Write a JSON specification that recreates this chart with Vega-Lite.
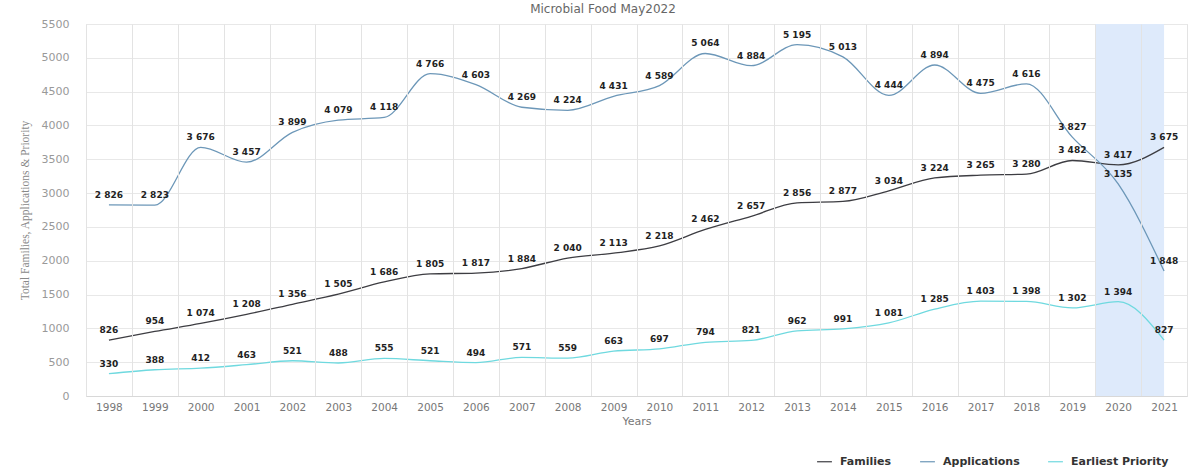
{
  "$schema": "https://vega.github.io/schema/vega-lite/v6.json",
  "width": 1101,
  "height": 372,
  "autosize": {"type": "none"},
  "padding": {"left": 86, "top": 24, "right": 4, "bottom": 73},
  "background": "white",
  "config": {
    "locale": {"number": {"decimal": ".", "thousands": " ", "grouping": [3], "currency": ["", ""]}},
    "view": {"stroke": "#e3e3e3"},
    "font": "DejaVu Sans",
    "axisY": {"values": [0,500,1000,1500,2000,2500,3000,3500,4000,4500,5000,5500], "format": "d", "title": "Total Families, Applications & Priority", "grid": true, "gridColor": "#e8e8e8", "domain": false, "ticks": false, "labelPadding": 17, "labelFont": "DejaVu Sans", "labelFontSize": 11, "labelColor": "#999", "labelOverlap": false, "titleFont": "Liberation Serif", "titleFontSize": 11.5, "titleFontWeight": "normal", "titleColor": "#888", "titlePadding": 11},
    "axisX": {"title": "Years", "tickBand": "extent", "grid": true, "gridColor": "#e3e3e3", "ticks": false, "domain": true, "domainColor": "#d8d8d8", "labelAngle": 0, "labelFont": "DejaVu Sans", "labelFontSize": 10.5, "labelColor": "#777", "labelPadding": 6, "titleFont": "DejaVu Sans", "titleFontSize": 11, "titleFontWeight": "normal", "titleColor": "#777", "titlePadding": 3}
  },
  "title": {"text": "Microbial Food May2022", "font": "DejaVu Sans", "fontSize": 12, "fontWeight": "normal", "color": "#666", "offset": 2, "anchor": "middle", "frame": "bounds"},
  "datasets": {
    "series": [
      {"year": "1998", "series": "Families", "value": 826},
      {"year": "1999", "series": "Families", "value": 954},
      {"year": "2000", "series": "Families", "value": 1074},
      {"year": "2001", "series": "Families", "value": 1208},
      {"year": "2002", "series": "Families", "value": 1356},
      {"year": "2003", "series": "Families", "value": 1505},
      {"year": "2004", "series": "Families", "value": 1686},
      {"year": "2005", "series": "Families", "value": 1805},
      {"year": "2006", "series": "Families", "value": 1817},
      {"year": "2007", "series": "Families", "value": 1884},
      {"year": "2008", "series": "Families", "value": 2040},
      {"year": "2009", "series": "Families", "value": 2113},
      {"year": "2010", "series": "Families", "value": 2218},
      {"year": "2011", "series": "Families", "value": 2462},
      {"year": "2012", "series": "Families", "value": 2657},
      {"year": "2013", "series": "Families", "value": 2856},
      {"year": "2014", "series": "Families", "value": 2877},
      {"year": "2015", "series": "Families", "value": 3034},
      {"year": "2016", "series": "Families", "value": 3224},
      {"year": "2017", "series": "Families", "value": 3265},
      {"year": "2018", "series": "Families", "value": 3280},
      {"year": "2019", "series": "Families", "value": 3482},
      {"year": "2020", "series": "Families", "value": 3417},
      {"year": "2021", "series": "Families", "value": 3675},
      {"year": "1998", "series": "Applications", "value": 2826},
      {"year": "1999", "series": "Applications", "value": 2823},
      {"year": "2000", "series": "Applications", "value": 3676},
      {"year": "2001", "series": "Applications", "value": 3457},
      {"year": "2002", "series": "Applications", "value": 3899},
      {"year": "2003", "series": "Applications", "value": 4079},
      {"year": "2004", "series": "Applications", "value": 4118},
      {"year": "2005", "series": "Applications", "value": 4766},
      {"year": "2006", "series": "Applications", "value": 4603},
      {"year": "2007", "series": "Applications", "value": 4269},
      {"year": "2008", "series": "Applications", "value": 4224},
      {"year": "2009", "series": "Applications", "value": 4431},
      {"year": "2010", "series": "Applications", "value": 4589},
      {"year": "2011", "series": "Applications", "value": 5064},
      {"year": "2012", "series": "Applications", "value": 4884},
      {"year": "2013", "series": "Applications", "value": 5195},
      {"year": "2014", "series": "Applications", "value": 5013},
      {"year": "2015", "series": "Applications", "value": 4444},
      {"year": "2016", "series": "Applications", "value": 4894},
      {"year": "2017", "series": "Applications", "value": 4475},
      {"year": "2018", "series": "Applications", "value": 4616},
      {"year": "2019", "series": "Applications", "value": 3827},
      {"year": "2020", "series": "Applications", "value": 3135},
      {"year": "2021", "series": "Applications", "value": 1848},
      {"year": "1998", "series": "Earliest Priority", "value": 330},
      {"year": "1999", "series": "Earliest Priority", "value": 388},
      {"year": "2000", "series": "Earliest Priority", "value": 412},
      {"year": "2001", "series": "Earliest Priority", "value": 463},
      {"year": "2002", "series": "Earliest Priority", "value": 521},
      {"year": "2003", "series": "Earliest Priority", "value": 488},
      {"year": "2004", "series": "Earliest Priority", "value": 555},
      {"year": "2005", "series": "Earliest Priority", "value": 521},
      {"year": "2006", "series": "Earliest Priority", "value": 494},
      {"year": "2007", "series": "Earliest Priority", "value": 571},
      {"year": "2008", "series": "Earliest Priority", "value": 559},
      {"year": "2009", "series": "Earliest Priority", "value": 663},
      {"year": "2010", "series": "Earliest Priority", "value": 697},
      {"year": "2011", "series": "Earliest Priority", "value": 794},
      {"year": "2012", "series": "Earliest Priority", "value": 821},
      {"year": "2013", "series": "Earliest Priority", "value": 962},
      {"year": "2014", "series": "Earliest Priority", "value": 991},
      {"year": "2015", "series": "Earliest Priority", "value": 1081},
      {"year": "2016", "series": "Earliest Priority", "value": 1285},
      {"year": "2017", "series": "Earliest Priority", "value": 1403},
      {"year": "2018", "series": "Earliest Priority", "value": 1398},
      {"year": "2019", "series": "Earliest Priority", "value": 1302},
      {"year": "2020", "series": "Earliest Priority", "value": 1394},
      {"year": "2021", "series": "Earliest Priority", "value": 827}
    ],
    "band": [{"start": "2020", "end": "2021"}]
  },
  "layer": [
    {
      "data": {"name": "band"},
      "mark": {"type": "rect", "color": "#deeafb", "opacity": 1},
      "encoding": {
        "x": {"field": "start", "type": "ordinal", "bandPosition": 0, "title": "Years",
          "scale": {"type": "band", "paddingInner": 0, "paddingOuter": 0, "domain": ["1998","1999","2000","2001","2002","2003","2004","2005","2006","2007","2008","2009","2010","2011","2012","2013","2014","2015","2016","2017","2018","2019","2020","2021"]}},
        "x2": {"field": "end", "bandPosition": 0.5},
        "y": {"datum": 5500, "type": "quantitative", "title": "Total Families, Applications & Priority", "scale": {"domain": [0, 5500], "nice": false}},
        "y2": {"datum": 0}
      }
    },
    {
      "data": {"name": "series"},
      "mark": {"type": "line", "interpolate": "monotone", "strokeWidth": 1.3},
      "encoding": {
        "x": {"field": "year", "type": "ordinal", "bandPosition": 0.5, "title": "Years"},
        "y": {"field": "value", "type": "quantitative", "title": "Total Families, Applications & Priority"},
        "color": {"field": "series", "type": "nominal",
          "scale": {"domain": ["Families", "Applications", "Earliest Priority"], "range": ["#3d3d42", "#6c97b8", "#6fd9df"]},
          "legend": {"orient": "none", "legendX": 730, "legendY": 429, "direction": "horizontal", "title": null, "symbolType": "stroke", "symbolSize": 220, "symbolStrokeWidth": 1.2, "labelFont": "DejaVu Sans", "labelFontWeight": "bold", "labelFontSize": 11, "labelColor": "#333", "columnPadding": 25, "labelOffset": 7}}
      }
    },
    {
      "data": {"name": "series"},
      "mark": {"type": "text", "font": "DejaVu Sans", "fontWeight": "bold", "fontSize": 9, "color": "#222", "baseline": "middle", "dy": -10},
      "encoding": {
        "x": {"field": "year", "type": "ordinal", "bandPosition": 0.5, "title": "Years"},
        "y": {"field": "value", "type": "quantitative", "title": "Total Families, Applications & Priority"},
        "text": {"field": "value", "type": "quantitative", "format": ",d"}
      }
    }
  ]
}
